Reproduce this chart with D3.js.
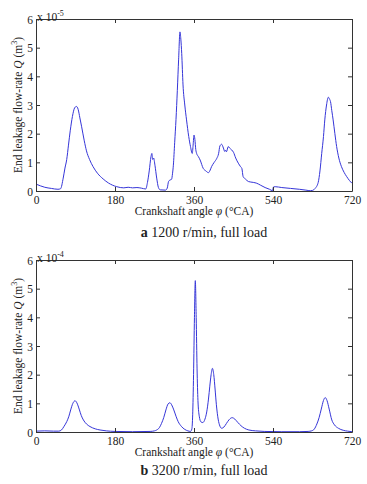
<!DOCTYPE html>
<html>
<head>
<meta charset="utf-8">
<script src="https://cdn.jsdelivr.net/npm/d3@7/dist/d3.min.js"></script>
<style>
  html, body { margin: 0; padding: 0; background: #fff; }
  svg { display: block; }
  text { font-family: "Liberation Serif", "Times New Roman", serif; fill: #222; }
</style>
</head>
<body>
<script>
// ---------- data ----------
const xTicks = [0, 180, 360, 540, 720];
const yTicks = [0, 1, 2, 3, 4, 5, 6];

// (a) 1200 r/min, values in 1e-5 m^3
const angleA = [0,10,20,35,50,56,62,66,70,74,78,83,88,92,96,100,104,110,115,122,130,140,153,165,184,200,210,220,230,240,250,254,258,262,264,266,268,271,275,279,283,295,299,302,305,309,311,313,316,319,322,325,328,330,332,335,339,343,348,352,356,358,360,362,364,366,370,374,381,387,393,396,400,406,412,416,419,423,427,430,432,434,438,441,446,450,455,461,466,469,472,477,484,495,503,512,522,532,539,541,545,560,580,600,615,625,630,636,643,647,651,655,658,662,666,669,671,674,677,681,685,690,696,702,708,714,720];
const flowA = [0.24,0.18,0.13,0.09,0.06,0.08,0.45,0.8,1.1,1.6,2.1,2.6,2.9,2.95,2.85,2.55,2.24,1.75,1.4,1.1,0.85,0.62,0.42,0.28,0.15,0.11,0.13,0.11,0.12,0.1,0.07,0.3,0.7,1.2,1.31,1.1,1.15,0.9,0.45,0.12,0.04,0.03,0.1,0.33,0.38,0.41,0.6,0.9,1.7,2.5,3.5,4.6,5.55,5.3,4.8,3.7,3.0,2.48,1.9,1.55,1.31,1.6,1.95,1.8,1.45,1.31,1.2,1.08,0.79,0.7,0.64,0.7,0.85,1.0,1.14,1.3,1.57,1.63,1.5,1.38,1.42,1.37,1.55,1.5,1.43,1.35,1.15,0.97,0.85,0.79,0.5,0.42,0.33,0.3,0.27,0.2,0.12,0.06,0.01,0.14,0.15,0.12,0.09,0.06,0.03,0.01,0.02,0.09,0.3,0.7,1.31,1.9,2.48,3.0,3.27,3.2,3.12,2.8,2.48,2.0,1.55,1.15,0.85,0.65,0.5,0.37,0.27];

// (b) 3200 r/min, values in 1e-4 m^3
const angleB = [0,20,40,52,58,64,70,75,79,84,89,93,99,103,108,115,123,135,146,160,180,220,260,270,275,281,286,291,296,301,305,309,314,319,324,331,339,346,352,355,357,359,361,363,365,367,369,372,376,380,385,389,393,396,399,402,405,408,411,414,418,423,428,434,440,447,453,460,467,475,485,500,520,560,600,620,628,634,640,645,650,655,659,663,668,674,680,689,700,710,720];
const flowB = [0.03,0.04,0.03,0.03,0.07,0.2,0.36,0.55,0.77,1.0,1.09,1.02,0.77,0.58,0.42,0.28,0.19,0.11,0.07,0.04,0.02,0.01,0.02,0.04,0.07,0.15,0.3,0.5,0.77,0.98,1.02,0.95,0.77,0.55,0.36,0.2,0.09,0.04,0.02,0.1,0.6,2.0,4.0,5.28,4.0,2.2,1.1,0.55,0.35,0.33,0.45,0.7,1.15,1.6,2.0,2.22,2.0,1.5,0.95,0.55,0.25,0.13,0.17,0.3,0.43,0.5,0.45,0.33,0.22,0.13,0.07,0.04,0.02,0.01,0.01,0.02,0.04,0.1,0.28,0.5,0.8,1.1,1.2,1.1,0.8,0.42,0.25,0.13,0.06,0.03,0.01];

const panels = [
  { angle: angleA, flow: flowA, exp: "-5", capBold: "a", cap: " 1200 r/min, full load", top: 19, bottom: 191, capY: 237 },
  { angle: angleB, flow: flowB, exp: "-4", capBold: "b", cap: " 3200 r/min, full load", top: 260, bottom: 432, capY: 475 }
];

// ---------- drawing ----------
const W = 367, H = 484;
const left = 36, right = 352;
const fs = 11.5;

const svg = d3.select("body").append("svg")
  .attr("width", W).attr("height", H)
  .style("background", "#fff");

panels.forEach(p => {
  const x = d3.scaleLinear().domain([0, 720]).range([left, right]);
  const y = d3.scaleLinear().domain([0, 6]).range([p.bottom, p.top]);
  const g = svg.append("g");

  // curve
  const data = p.angle.map((a, i) => [a, p.flow[i]]);
  g.append("path")
    .datum(data)
    .attr("fill", "none")
    .attr("stroke", "#3535d8")
    .attr("stroke-width", 1)
    .attr("d", d3.line().x(d => x(d[0])).y(d => y(d[1])).curve(d3.curveMonotoneX));

  // axes (MATLAB style: inward ticks all around)
  const axB = g.append("g").attr("transform", `translate(0,${p.bottom})`)
    .call(d3.axisBottom(x).tickValues(xTicks).tickFormat(d3.format("d")).tickSizeInner(-4).tickSizeOuter(0));
  const axT = g.append("g").attr("transform", `translate(0,${p.top})`)
    .call(d3.axisTop(x).tickValues(xTicks).tickSizeInner(-4).tickSizeOuter(0).tickFormat(""));
  const axL = g.append("g").attr("transform", `translate(${left},0)`)
    .call(d3.axisLeft(y).tickValues(yTicks).tickFormat(d3.format("d")).tickSizeInner(-4).tickSizeOuter(0).tickPadding(3));
  const axR = g.append("g").attr("transform", `translate(${right},0)`)
    .call(d3.axisRight(y).tickValues(yTicks).tickSizeInner(-4).tickSizeOuter(0).tickFormat(""));

  [axB, axT, axL, axR].forEach(a => {
    a.select(".domain").attr("stroke", "#333").attr("stroke-width", 1);
    a.selectAll(".tick line").attr("stroke", "#333");
    a.selectAll("text").style("font-family", "Liberation Serif, serif").style("font-size", fs + "px").attr("fill", "#222");
  });
  axB.selectAll("text").attr("dy", null).attr("y", 12.5);
  axL.selectAll("text").attr("dy", "0.35em");

  // exponent label
  const e = g.append("text").attr("x", 37).attr("y", p.top + 2).style("font-size", fs + "px");
  e.append("tspan").text("x 10");
  e.append("tspan").attr("dy", -5).style("font-size", "8px").text(p.exp);

  // x axis title
  const xt = g.append("text").attr("x", (left + right) / 2).attr("y", p.bottom + 23.5)
    .attr("text-anchor", "middle").style("font-size", fs + "px");
  xt.append("tspan").text("Crankshaft angle ");
  xt.append("tspan").style("font-style", "italic").text("φ");
  xt.append("tspan").text(" (°CA)");

  // y axis title
  const yt = g.append("text")
    .attr("transform", `translate(21.5,${(p.top + p.bottom) / 2}) rotate(-90)`)
    .attr("text-anchor", "middle").style("font-size", fs + "px");
  yt.append("tspan").text("End leakage flow-rate ");
  yt.append("tspan").style("font-style", "italic").text("Q");
  yt.append("tspan").text(" (m");
  yt.append("tspan").attr("dy", -5).style("font-size", "8px").text("3");
  yt.append("tspan").attr("dy", 5).text(")");

  // caption
  const c = g.append("text").attr("x", (left + right) / 2 + 10).attr("y", p.capY)
    .attr("text-anchor", "middle").style("font-size", "14px");
  c.append("tspan").style("font-weight", "bold").text(p.capBold);
  c.append("tspan").text(p.cap);
});
</script>
</body>
</html>
